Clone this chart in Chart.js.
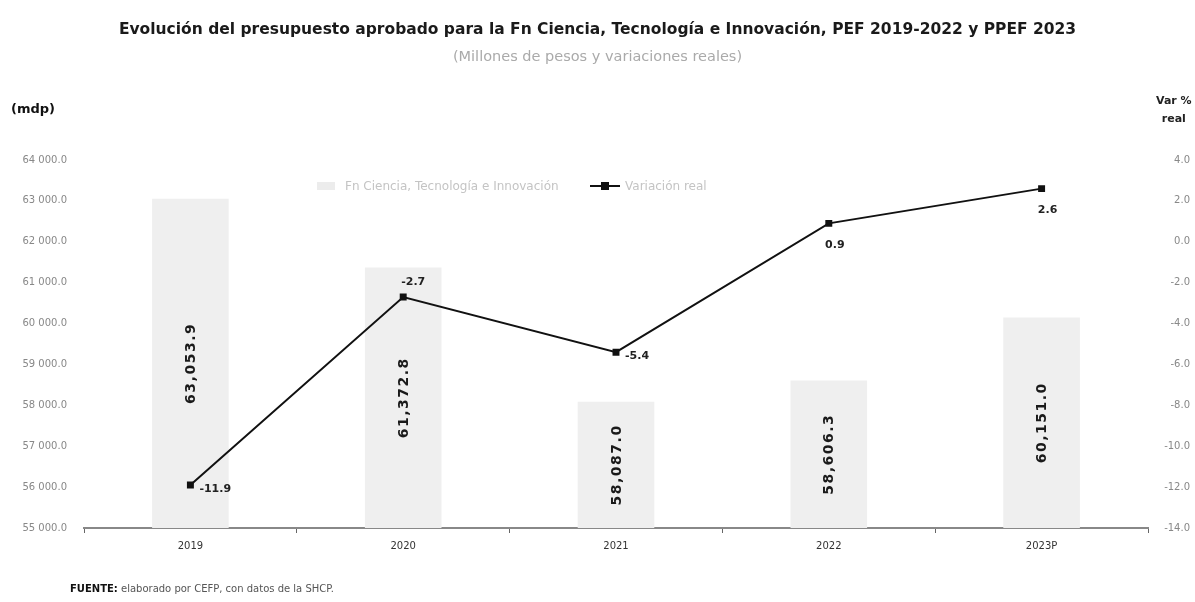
<!DOCTYPE html>
<html>
<head>
<meta charset="utf-8">
<script src="https://cdn.jsdelivr.net/npm/chart.js@4"></script>
<style>
    html, body { margin: 0; padding: 0; background: #fff; }
    #wrap { position: relative; width: 1195px; height: 602px; font-family: 'DejaVu Sans', sans-serif; }
    canvas { position: absolute; left: 0; top: 0; }
    .txt { position: absolute; white-space: nowrap; }
    #title { left: 0; width: 1195px; top: 20px; text-align: center; font-size: 15.5px; font-weight: bold; color: #1a1a1a; }
    #subtitle { left: 0; width: 1195px; top: 48px; text-align: center; font-size: 14.5px; color: #aaa; }
    #mdp { left: 11px; top: 101px; font-size: 13px; font-weight: bold; color: #111; }
    #varreal { left: 1156px; top: 92px; font-size: 11px; font-weight: bold; color: #222; text-align: center; line-height: 18px; }
    #fuente { left: 70px; top: 583px; font-size: 10px; color: #555; }
    #fuente b { color: #111; }
    .leg { position: absolute; top: 179px; font-size: 12px; color: #c4c4c4; display: flex; align-items: center; }
    .leg .box { width: 18px; height: 8px; background: #ececec; display: inline-block; margin-right: 10px; }
    .leg .ln { width: 30px; height: 2px; background: #111; display: inline-block; position: relative; margin-right: 5px; }
    .leg .ln::after { content: ''; position: absolute; left: 11px; top: -3px; width: 8px; height: 8px; background: #111; }
</style>
</head>
<body>
<div id="wrap">
    <canvas id="chart" width="1195" height="602"></canvas>
    <div class="txt" id="title">Evolución del presupuesto aprobado para la Fn Ciencia, Tecnología e Innovación, PEF 2019-2022 y PPEF 2023</div>
    <div class="txt" id="subtitle">(Millones de pesos y variaciones reales)</div>
    <div class="txt" id="mdp">(mdp)</div>
    <div class="txt" id="varreal">Var %<br>real</div>
    <div class="leg" style="left: 317px;"><span class="box"></span>Fn Ciencia, Tecnología e Innovación</div>
    <div class="leg" style="left: 590px;"><span class="ln"></span>Variación real</div>
    <div class="txt" id="fuente"><b>FUENTE:</b> elaborado por CEFP, con datos de la SHCP.</div>
</div>
<script>
// Data
const years = ['2019', '2020', '2021', '2022', '2023P'];
const budget = [63053.9, 61372.8, 58087.0, 58606.3, 60151.0];
const realChange = [-11.9, -2.7, -5.4, 0.9, 2.6];

// where each variation label sits relative to its point
const changeLabelPos = ['right', 'top', 'right', 'bottom', 'bottom'];

const fmtBudget = v => v.toLocaleString('en-US', { minimumFractionDigits: 1, maximumFractionDigits: 1 });
const fmtLeft = v => fmtBudget(v).replace(',', ' ');

const valueLabels = {
    id: 'valueLabels',
    afterDatasetsDraw(chart) {
        const ctx = chart.ctx;
        const base = chart.scales.y.bottom;
        ctx.save();
        // bar labels, rotated inside the bars
        const bars = chart.getDatasetMeta(0).data;
        ctx.font = 'bold 14px "DejaVu Sans", sans-serif';
        ctx.letterSpacing = '1.5px';
        ctx.fillStyle = '#1a1a1a';
        ctx.textAlign = 'center';
        ctx.textBaseline = 'middle';
        bars.forEach((bar, i) => {
            const cy = (bar.y + base) / 2;
            ctx.save();
            ctx.translate(bar.x + 1, cy);
            ctx.rotate(-Math.PI / 2);
            ctx.fillText(fmtBudget(budget[i]), 0, 0);
            ctx.restore();
        });
        // line labels
        const pts = chart.getDatasetMeta(1).data;
        ctx.letterSpacing = '0px';
        ctx.font = 'bold 11px "DejaVu Sans", sans-serif';
        ctx.fillStyle = '#222';
        pts.forEach((p, i) => {
            const txt = realChange[i].toFixed(1);
            const pos = changeLabelPos[i];
            if (pos === 'right') {
                ctx.textAlign = 'left';
                ctx.fillText(txt, p.x + 9, p.y + 4);
            } else if (pos === 'top') {
                ctx.textAlign = 'center';
                ctx.fillText(txt, p.x + 10, p.y - 15);
            } else {
                ctx.textAlign = 'center';
                ctx.fillText(txt, p.x + 6, p.y + 22);
            }
        });
        ctx.restore();
    }
};

new Chart(document.getElementById('chart'), {
    data: {
        labels: years,
        datasets: [{
            type: 'bar',
            label: 'Fn Ciencia, Tecnología e Innovación',
            data: budget,
            yAxisID: 'y',
            backgroundColor: '#efefef',
            barPercentage: 0.9,
            categoryPercentage: 0.4,
            order: 2
        }, {
            type: 'line',
            label: 'Variación real',
            data: realChange,
            yAxisID: 'y1',
            borderColor: '#111',
            backgroundColor: '#111',
            borderWidth: 2,
            pointStyle: 'rect',
            pointRadius: 3.5,
            tension: 0,
            order: 1
        }]
    },
    options: {
        responsive: false,
        animation: false,
        layout: { padding: { top: 160, bottom: 44, left: 0, right: 5 } },
        plugins: {
            legend: { display: false },
            tooltip: { enabled: false }
        },
        scales: {
            x: {
                grid: { display: true, offset: true, drawOnChartArea: false, tickLength: 5, color: '#666' },
                border: { display: true, color: '#888', width: 2 },
                ticks: { color: '#333', font: { family: 'DejaVu Sans', size: 10 }, padding: 7 },
                afterFit: s => { s.height = 30; }
            },
            y: {
                position: 'left',
                min: 55000,
                max: 64000,
                grid: { display: false },
                border: { display: false },
                ticks: { stepSize: 1000, color: '#888', font: { family: 'DejaVu Sans', size: 10 }, padding: 9, callback: v => fmtLeft(v) },
                afterFit: s => { s.width = 84; }
            },
            y1: {
                position: 'right',
                min: -14,
                max: 4,
                grid: { display: false },
                border: { display: false },
                ticks: { stepSize: 2, color: '#888', font: { family: 'DejaVu Sans', size: 10 }, crossAlign: 'far', callback: v => v.toFixed(1) },
                afterFit: s => { s.width = 42; }
            }
        }
    },
    plugins: [valueLabels]
});
</script>
</body>
</html>
